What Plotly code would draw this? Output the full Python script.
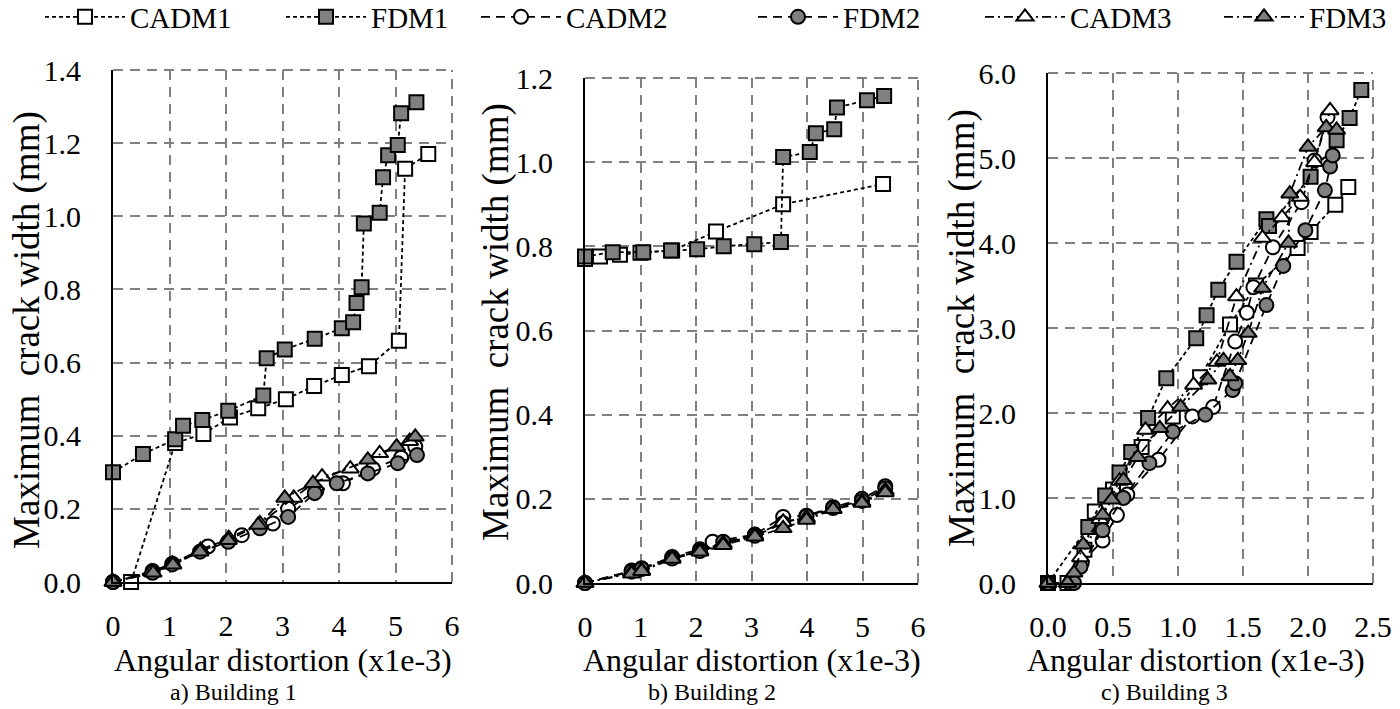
import plotly.graph_objects as go

W, H = 1400, 709

# ---------------- Building 1 ----------------
b1_cadm1_x = [0.32, 1.1, 1.6, 2.07, 2.57, 3.06, 3.56, 4.05, 4.53, 5.06, 5.17, 5.58]
b1_cadm1_y = [0.0, 0.38, 0.405, 0.45, 0.475, 0.50, 0.536, 0.566, 0.59, 0.66, 1.13, 1.17]
b1_fdm1_x = [0.0, 0.53, 1.1, 1.24, 1.58, 2.04, 2.66, 2.72, 3.04, 3.57, 4.05, 4.25, 4.31, 4.4,
             4.44, 4.72, 4.78, 4.87, 5.04, 5.1, 5.37]
b1_fdm1_y = [0.30, 0.35, 0.39, 0.427, 0.443, 0.468, 0.51, 0.612, 0.636, 0.665, 0.694, 0.71, 0.763, 0.806,
             0.98, 1.01, 1.107, 1.167, 1.195, 1.282, 1.312]
b1_cadm2_x = [0.0, 0.7, 1.05, 1.68, 2.28, 2.83, 3.1, 3.6, 4.07, 4.6, 5.1, 5.35]
b1_cadm2_y = [0.0, 0.03, 0.05, 0.097, 0.128, 0.16, 0.2, 0.25, 0.27, 0.31, 0.34, 0.37]
b1_fdm2_x = [0.0, 0.7, 1.05, 1.54, 2.04, 2.6, 3.1, 3.57, 3.96, 4.51, 5.04, 5.38]
b1_fdm2_y = [0.0, 0.025, 0.048, 0.083, 0.11, 0.147, 0.178, 0.243, 0.27, 0.297, 0.325, 0.347]
b1_cadm3_x = [0.0, 0.68, 1.05, 1.55, 2.05, 2.6, 3.2, 3.7, 4.2, 4.72, 5.25]
b1_cadm3_y = [0.0, 0.028, 0.05, 0.088, 0.12, 0.16, 0.23, 0.288, 0.31, 0.352, 0.385]
b1_fdm3_x = [0.0, 0.71, 1.06, 1.54, 2.04, 2.57, 3.04, 3.54, 4.51, 5.02, 5.35]
b1_fdm3_y = [0.0, 0.025, 0.047, 0.083, 0.114, 0.156, 0.23, 0.27, 0.334, 0.37, 0.397]

# ---------------- Building 2 ----------------
b2_cadm1_x = [0.0, 0.27, 0.63, 1.0, 1.57, 2.36, 3.57, 5.37]
b2_cadm1_y = [0.77, 0.776, 0.78, 0.785, 0.79, 0.835, 0.90, 0.948]
b2_fdm1_x = [0.0, 0.5, 1.05, 1.55, 2.02, 2.5, 3.05, 3.53, 3.57, 4.05, 4.16, 4.49, 4.54, 5.08, 5.39]
b2_fdm1_y = [0.776, 0.786, 0.786, 0.79, 0.793, 0.80, 0.805, 0.81, 1.012, 1.024, 1.069, 1.078, 1.13, 1.147, 1.157]
b2_cadm2_x = [0.0, 0.84, 1.02, 1.57, 2.07, 2.3, 3.06, 3.57, 3.99, 4.47, 4.99, 5.41]
b2_cadm2_y = [0.0, 0.03, 0.035, 0.062, 0.08, 0.098, 0.115, 0.157, 0.16, 0.18, 0.20, 0.23]
b2_fdm2_x = [0.0, 0.84, 1.02, 1.57, 2.07, 2.49, 3.06, 3.57, 3.99, 4.47, 4.99, 5.41]
b2_fdm2_y = [0.0, 0.027, 0.033, 0.058, 0.076, 0.098, 0.112, 0.142, 0.158, 0.178, 0.195, 0.225]
b2_cadm3_x = [0.0, 0.84, 1.02, 1.57, 2.07, 2.49, 3.06, 3.57, 3.99, 4.47, 4.99, 5.41]
b2_cadm3_y = [0.0, 0.025, 0.03, 0.06, 0.077, 0.094, 0.113, 0.145, 0.155, 0.176, 0.193, 0.22]
b2_fdm3_x = [0.0, 0.84, 1.02, 1.57, 2.07, 2.49, 3.06, 3.57, 3.99, 4.47, 4.99, 5.41]
b2_fdm3_y = [0.0, 0.022, 0.028, 0.057, 0.074, 0.09, 0.11, 0.13, 0.15, 0.175, 0.19, 0.215]

# ---------------- Building 3 ----------------
b3_cadm1_x = [0.0, 0.15, 0.28, 0.36, 0.5, 0.72, 0.96, 1.17, 1.4, 1.6, 1.92, 2.02, 2.21, 2.31]
b3_cadm1_y = [0.0, 0.0, 0.39, 0.84, 1.1, 1.6, 1.96, 2.42, 3.04, 3.5, 3.94, 4.13, 4.45, 4.66]
b3_fdm1_x = [0.0, 0.31, 0.44, 0.55, 0.64, 0.77, 0.91, 1.14, 1.22, 1.31, 1.45, 1.68, 1.70, 2.02, 2.22, 2.32, 2.41]
b3_fdm1_y = [0.0, 0.66, 1.03, 1.30, 1.54, 1.94, 2.41, 2.88, 3.15, 3.45, 3.78, 4.28, 4.20, 4.78, 5.21, 5.47, 5.80]
b3_cadm2_x = [0.0, 0.17, 0.26, 0.42, 0.53, 0.61, 0.85, 1.11, 1.27, 1.44, 1.53, 1.58, 1.73, 1.95, 2.05, 2.15]
b3_cadm2_y = [0.0, 0.0, 0.24, 0.5, 0.8, 1.04, 1.45, 1.96, 2.07, 2.84, 3.18, 3.48, 3.95, 4.48, 4.97, 5.48]
b3_fdm2_x = [0.0, 0.2, 0.25, 0.42, 0.58, 0.78, 0.96, 1.21, 1.42, 1.44, 1.68, 1.81, 1.98, 2.13, 2.17, 2.19]
b3_fdm2_y = [0.0, 0.0, 0.19, 0.62, 1.0, 1.41, 1.78, 1.98, 2.27, 2.35, 3.27, 3.73, 4.15, 4.62, 4.9, 5.03]
b3_cadm3_x = [0.0, 0.15, 0.25, 0.4, 0.55, 0.75, 0.92, 1.12, 1.3, 1.45, 1.65, 1.8, 1.94, 2.05, 2.17]
b3_cadm3_y = [0.0, 0.0, 0.3, 0.75, 1.2, 1.8, 2.05, 2.33, 2.6, 3.37, 4.06, 4.3, 4.54, 4.95, 5.56]
b3_fdm3_x = [0.0, 0.15, 0.2, 0.27, 0.42, 0.49, 0.58, 0.69, 0.86, 1.02, 1.23, 1.35, 1.40, 1.46, 1.54,
             1.65, 1.85, 1.86, 2.0, 2.14, 2.22]
b3_fdm3_y = [0.0, 0.0, 0.12, 0.45, 0.8, 0.98, 1.21, 1.48, 1.82, 2.07, 2.39, 2.62, 2.43, 2.62, 2.94,
             3.47, 4.0, 4.58, 5.13, 5.36, 5.33]

series_names = ["CADM1", "FDM1", "CADM2", "FDM2", "CADM3", "FDM3"]

# tick labels
x1_ticks = [0, 1, 2, 3, 4, 5, 6]
x1_ticklabels = ["0", "1", "2", "3", "4", "5", "6"]
y1_ticks = [0, 0.2, 0.4, 0.6, 0.8, 1.0, 1.2, 1.4]
y1_ticklabels = ["0.0", "0.2", "0.4", "0.6", "0.8", "1.0", "1.2", "1.4"]
x2_ticks = [0, 1, 2, 3, 4, 5, 6]
x2_ticklabels = ["0", "1", "2", "3", "4", "5", "6"]
y2_ticks = [0, 0.2, 0.4, 0.6, 0.8, 1.0, 1.2]
y2_ticklabels = ["0.0", "0.2", "0.4", "0.6", "0.8", "1.0", "1.2"]
x3_ticks = [0, 0.5, 1.0, 1.5, 2.0, 2.5]
x3_ticklabels = ["0.0", "0.5", "1.0", "1.5", "2.0", "2.5"]
y3_ticks = [0, 1, 2, 3, 4, 5, 6]
y3_ticklabels = ["0.0", "1.0", "2.0", "3.0", "4.0", "5.0", "6.0"]

panel_titles = ["a) Building 1", "b) Building 2", "c) Building 3"]
x_title = "Angular distortion (x1e-3)"
y_title = "Maximum\u00a0 crack width (mm)"

FONT = "Liberation Serif, Times New Roman, serif"
GRAY = "#808080"

styles = {
    "CADM1": dict(symbol="square", fill="white", dash="4px,3px"),
    "FDM1": dict(symbol="square", fill=GRAY, dash="4px,3px"),
    "CADM2": dict(symbol="circle", fill="white", dash="9px,6px"),
    "FDM2": dict(symbol="circle", fill=GRAY, dash="9px,6px"),
    "CADM3": dict(symbol="triangle-up", fill="white", dash="9px,4px,2px,4px"),
    "FDM3": dict(symbol="triangle-up", fill=GRAY, dash="9px,4px,2px,4px"),
}
msize = {"square": 14, "circle": 14, "triangle-up": 15}

data = {
    1: [(b1_cadm1_x, b1_cadm1_y), (b1_fdm1_x, b1_fdm1_y), (b1_cadm2_x, b1_cadm2_y),
        (b1_fdm2_x, b1_fdm2_y), (b1_cadm3_x, b1_cadm3_y), (b1_fdm3_x, b1_fdm3_y)],
    2: [(b2_cadm1_x, b2_cadm1_y), (b2_fdm1_x, b2_fdm1_y), (b2_cadm2_x, b2_cadm2_y),
        (b2_fdm2_x, b2_fdm2_y), (b2_cadm3_x, b2_cadm3_y), (b2_fdm3_x, b2_fdm3_y)],
    3: [(b3_cadm1_x, b3_cadm1_y), (b3_fdm1_x, b3_fdm1_y), (b3_cadm2_x, b3_cadm2_y),
        (b3_fdm2_x, b3_fdm2_y), (b3_cadm3_x, b3_cadm3_y), (b3_fdm3_x, b3_fdm3_y)],
}

fig = go.Figure()
for p in (1, 2, 3):
    for k, name in enumerate(series_names):
        xs, ys = data[p][k]
        st = styles[name]
        legend_id = "legend" if k == 0 else f"legend{k + 1}"
        fig.add_trace(go.Scatter(
            x=xs, y=ys, name=name, mode="lines+markers",
            xaxis="x" if p == 1 else f"x{p}", yaxis="y" if p == 1 else f"y{p}",
            line=dict(color="black", width=1.8, dash=st["dash"]),
            marker=dict(symbol=st["symbol"], size=msize[st["symbol"]], color=st["fill"],
                        line=dict(color="black", width=2)),
            cliponaxis=False, showlegend=(p == 1), legend=legend_id, legendgroup=name,
        ))

# plot area positions (pixels)
areas = {
    1: dict(x0=113, x1=452, y0=70, y1=582),
    2: dict(x0=585, x1=918, y0=78, y1=583),
    3: dict(x0=1048, x1=1373, y0=73, y1=583),
}
ranges = {1: ([0, 6], [0, 1.4]), 2: ([0, 6], [0, 1.2]), 3: ([0, 2.5], [0, 6])}
ticks = {1: (x1_ticks, x1_ticklabels, y1_ticks, y1_ticklabels),
         2: (x2_ticks, x2_ticklabels, y2_ticks, y2_ticklabels),
         3: (x3_ticks, x3_ticklabels, y3_ticks, y3_ticklabels)}

GRID_DASH = "10px,7px"
axis_common = dict(
    showline=True, linecolor="black", linewidth=2, mirror=False,
    showgrid=True, gridcolor=GRAY, gridwidth=2, griddash=GRID_DASH,
    zeroline=False, ticks="", tickfont=dict(family=FONT, size=30, color="black"),
    automargin=False, fixedrange=True,
)

layout = dict(
    width=W, height=H, margin=dict(l=0, r=0, t=0, b=0, autoexpand=False),
    paper_bgcolor="white", plot_bgcolor="white",
    font=dict(family=FONT, color="black"),
)
shapes = []
for p in (1, 2, 3):
    a = areas[p]
    xr, yr = ranges[p]
    xt, xtl, yt, ytl = ticks[p]
    xa = "xaxis" if p == 1 else f"xaxis{p}"
    ya = "yaxis" if p == 1 else f"yaxis{p}"
    xref = "x" if p == 1 else f"x{p}"
    yref = "y" if p == 1 else f"y{p}"
    layout[xa] = dict(axis_common, domain=[a["x0"] / W, a["x1"] / W], range=xr,
                      tickvals=xt, ticktext=xtl, anchor=yref, ticklabelstandoff=16)
    layout[ya] = dict(axis_common, domain=[1 - a["y1"] / H, 1 - a["y0"] / H], range=yr,
                      tickvals=yt, ticktext=ytl, anchor=xref, ticklabelstandoff=24)
    shapes.append(dict(type="line", xref=f"{xref} domain", yref=f"{yref} domain",
                       x0=0, x1=1, y0=1, y1=1, layer="below",
                       line=dict(color=GRAY, width=2, dash=GRID_DASH)))
    shapes.append(dict(type="line", xref=f"{xref} domain", yref=f"{yref} domain",
                       x0=1, x1=1, y0=0, y1=1, layer="below",
                       line=dict(color=GRAY, width=2, dash=GRID_DASH)))
layout["shapes"] = shapes

# legends, one per series, placed individually
legend_text_x = [132, 373, 568, 845, 1072, 1311]
ITEMW = 80
for k, name in enumerate(series_names):
    key = "legend" if k == 0 else f"legend{k + 1}"
    layout[key] = dict(
        x=(legend_text_x[k] - ITEMW - 12) / W, xanchor="left", y=1.012, yanchor="top",
        orientation="h", bgcolor="rgba(0,0,0,0)", itemwidth=ITEMW,
        font=dict(family=FONT, size=29, color="black"),
    )

annotations = []
ytitle_x = {1: 27, 2: 496, 3: 962}
ytitle_y = {1: 330, 2: 322, 3: 328}
xtitle_x = {1: 283, 2: 752, 3: 1196}
ptitle_x = {1: 233, 2: 712, 3: 1164}
for p in (1, 2, 3):
    annotations.append(dict(text=y_title, textangle=-90, xref="paper", yref="paper",
                            x=ytitle_x[p] / W, y=1 - ytitle_y[p] / H, xanchor="center",
                            yanchor="middle", showarrow=False,
                            font=dict(family=FONT, size=37, color="black")))
    annotations.append(dict(text=x_title, xref="paper", yref="paper",
                            x=xtitle_x[p] / W, y=1 - 660 / H, xanchor="center",
                            yanchor="middle", showarrow=False,
                            font=dict(family=FONT, size=32, color="black")))
    annotations.append(dict(text=panel_titles[p - 1], xref="paper", yref="paper",
                            x=ptitle_x[p] / W, y=1 - 692 / H, xanchor="center",
                            yanchor="middle", showarrow=False,
                            font=dict(family=FONT, size=24, color="black")))
layout["annotations"] = annotations

fig.update_layout(**layout)
fig.write_html("out.html")
